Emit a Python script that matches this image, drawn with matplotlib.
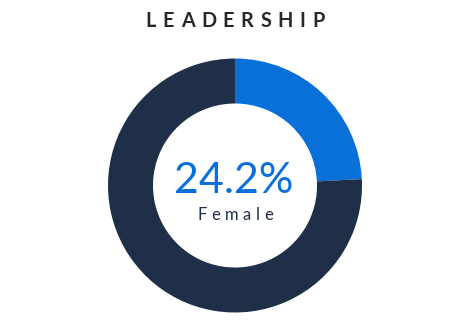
import matplotlib
matplotlib.use('Agg')
import matplotlib.pyplot as plt

title = 'LEADERSHIP'
labels = ['Female', 'Male']
values = [24.2, 75.8]
colors = ['#0a70d9', '#1f2f47']
center_value = '24.2%'
center_label = 'Female'

W, H = 469, 326
fig = plt.figure(figsize=(W / 100, H / 100), dpi=100)
ax = fig.add_axes([0, 0, 1, 1])
ax.pie(values, colors=colors, startangle=90, counterclock=False,
       radius=127, center=(235, H - 185.5),
       wedgeprops=dict(width=45, linewidth=0))
ax.set_xlim(0, W)
ax.set_ylim(0, H)
ax.set_aspect('equal')
ax.axis('off')

renderer = fig.canvas.get_renderer()


def spaced(text, xc, y_px, gap, **kw):
    objs = []
    widths = []
    for ch in text:
        t = ax.text(0, H - y_px, ch, ha='left', va='baseline', **kw)
        w = t.get_window_extent(renderer).width
        objs.append(t)
        widths.append(w)
    total = sum(widths) + gap * (len(text) - 1)
    x = xc - total / 2
    for t, w in zip(objs, widths):
        t.set_x(x)
        x += w + gap


spaced(title, 235, 27, 6.6, fontsize=14.3, fontweight='bold',
       family='Lato', color='#25272b')
ax.text(234, H - 193, center_value, ha='center', va='baseline',
        fontsize=31, family='Lato', color=colors[0])
spaced(center_label, 235, 219.5, 4.5, fontsize=12, family='Lato',
       color=colors[1])

fig.savefig('out.png', dpi=100)
